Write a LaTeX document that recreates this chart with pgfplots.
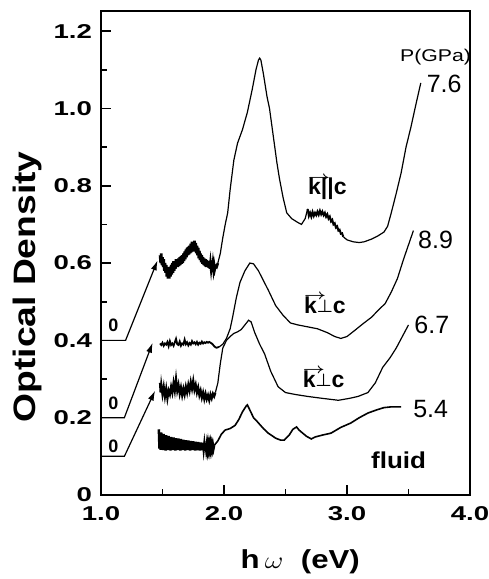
\documentclass[border=0pt]{standalone}
\usepackage{amsmath}
\usepackage{fontspec}
\setmainfont{Liberation Sans}
\usepackage{graphicx}
\usepackage{pgfplots}
\pgfplotsset{compat=1.18}
\usetikzlibrary{arrows.meta}

\newcommand{\vk}{\makebox[0pt][l]{\raisebox{0.6em}{\scalebox{0.8}[0.6]{$\boldsymbol{\rightarrow}$}}}k}
\newcommand{\perpc}{\bfseries\vk\raisebox{0.05em}{\scalebox{0.75}{$\boldsymbol{\perp}$}}c}
\newcommand{\tl}[1]{\scalebox{1.38}[1]{#1}}

\begin{document}
\begin{tikzpicture}
\begin{axis}[
  scale only axis, width=184.5pt, height=242pt,
  xmin=1, xmax=4, ymin=0, ymax=1.252,
  axis line style={line width=1pt},
  tick align=inside, xtick pos=bottom, ytick pos=left,
  xtick={1,2,3,4}, xticklabels={\tl{1.0},\tl{2.0},\tl{3.0},\tl{4.0}},
  minor xtick={1.5,2.5,3.5},
  ytick={0,0.2,0.4,0.6,0.8,1.0,1.2},
  yticklabels={\tl{0},\tl{0.2},\tl{0.4},\tl{0.6},\tl{0.8},\tl{1.0},\tl{1.2}},
  minor ytick={0.1,0.3,0.5,0.7,0.9,1.1},
  major tick length=5pt, minor tick length=3pt,
  every tick/.style={line width=0.8pt, black},
  tick label style={font=\fontsize{10}{12}\selectfont\bfseries},
  xticklabel style={yshift=-2pt},
  yticklabel style={xshift=-1pt},
  xlabel={\scalebox{1.2}[1]{\bfseries h\,$\omega$\ \ (eV)}},
  xlabel style={at={(axis description cs:0.54,-0.138)}, anchor=center, font=\fontsize{13}{15}\selectfont},
  ylabel={\scalebox{1.2}[1]{\bfseries Optical Density}},
  ylabel style={at={(axis description cs:-0.2,0.43)}, anchor=center, font=\fontsize{15.5}{17}\selectfont},
  cycle list={{black, line width=0.6pt, mark=none}},
  clip=false
]
\coordinate (SW) at (rel axis cs:0,0);
\coordinate (NE) at (rel axis cs:1,1);

% zero lines and offset arrows
\addplot[black, line width=0.6pt, -{Latex[length=5pt,width=3pt]}] coordinates {(1.0,0.40)(1.20,0.40)(1.46,0.607)};
\addplot[black, line width=0.6pt, -{Latex[length=5pt,width=3pt]}] coordinates {(1.0,0.20)(1.19,0.20)(1.42,0.394)};
\addplot[black, line width=0.6pt, -{Latex[length=5pt,width=3pt]}] coordinates {(1.0,0.10)(1.19,0.10)(1.44,0.27)};

% 7.6 GPa, k || c
\addplot[black, line width=1.3pt] coordinates {
(1.480,0.620)(1.485,0.600)(1.490,0.625)(1.495,0.595)(1.500,0.615)(1.505,0.590)
(1.510,0.610)(1.515,0.580)(1.520,0.600)(1.525,0.575)(1.530,0.595)(1.535,0.565)
(1.540,0.590)(1.545,0.560)(1.550,0.585)(1.555,0.560)(1.560,0.590)(1.565,0.565)
(1.570,0.595)(1.575,0.570)(1.580,0.600)(1.585,0.575)(1.590,0.605)(1.595,0.580)
(1.600,0.605)(1.605,0.585)(1.610,0.610)(1.615,0.590)(1.620,0.610)(1.625,0.590)
(1.630,0.612)(1.635,0.592)(1.640,0.615)(1.645,0.595)(1.650,0.618)(1.655,0.598)
(1.660,0.620)(1.665,0.600)(1.670,0.625)(1.675,0.605)(1.680,0.630)(1.685,0.610)
(1.690,0.635)(1.695,0.615)(1.700,0.640)(1.705,0.620)(1.710,0.642)(1.715,0.622)
(1.720,0.645)(1.725,0.625)(1.730,0.650)(1.735,0.628)(1.740,0.655)(1.745,0.630)
(1.750,0.655)(1.755,0.632)(1.760,0.658)(1.765,0.630)(1.770,0.652)(1.775,0.625)
(1.780,0.645)(1.785,0.620)(1.790,0.640)(1.795,0.612)(1.800,0.632)(1.805,0.608)
(1.810,0.625)(1.815,0.602)(1.820,0.620)(1.825,0.598)(1.830,0.615)(1.835,0.595)
(1.840,0.612)(1.845,0.592)(1.850,0.610)(1.855,0.590)(1.860,0.608)(1.865,0.590)
(1.870,0.605)(1.875,0.588)(1.880,0.605)(1.885,0.585)(1.890,0.600)(1.895,0.585)
(1.900,0.600)(1.905,0.583)(1.910,0.598)(1.915,0.583)(1.920,0.595)(1.925,0.585)
(1.930,0.593)(1.940,0.590)(1.950,0.600)};
\addplot[black, line width=0.6pt] coordinates {
(1.95,0.600)(1.97,0.625)(1.99,0.665)(2.01,0.700)(2.03,0.730)(2.05,0.790)
(2.08,0.866)(2.11,0.910)(2.15,0.945)(2.19,0.990)(2.23,1.050)(2.26,1.100)
(2.28,1.125)(2.29,1.130)(2.30,1.125)(2.32,1.090)(2.35,1.030)(2.37,1.000)
(2.40,0.930)(2.43,0.860)(2.45,0.820)(2.48,0.770)(2.51,0.730)(2.55,0.715)
(2.60,0.705)(2.63,0.700)(2.66,0.715)(2.68,0.740)};
\addplot[black, line width=1.0pt] coordinates {
(2.68,0.740)(2.69,0.722)(2.70,0.730)(2.71,0.720)(2.72,0.732)(2.73,0.722)
(2.74,0.730)(2.75,0.724)(2.76,0.733)(2.77,0.725)(2.78,0.735)(2.79,0.726)
(2.80,0.733)(2.81,0.724)(2.82,0.730)(2.83,0.720)(2.84,0.726)(2.85,0.715)
(2.86,0.720)(2.87,0.708)(2.88,0.712)(2.89,0.700)(2.90,0.703)(2.91,0.692)
(2.92,0.695)(2.93,0.684)(2.94,0.686)(2.95,0.676)(2.96,0.677)(2.97,0.668)};
\addplot[black, line width=0.6pt] coordinates {
(2.97,0.668)(3.00,0.660)(3.05,0.655)(3.10,0.653)(3.14,0.655)(3.20,0.662)
(3.25,0.670)(3.30,0.680)(3.33,0.695)(3.36,0.730)(3.40,0.780)(3.44,0.833)
(3.48,0.900)(3.52,0.952)(3.56,1.010)(3.60,1.066)};

% 8.9 GPa, k perp c
\addplot[black, line width=0.9pt] coordinates {
(1.48,0.392)(1.49,0.388)(1.50,0.394)(1.51,0.386)(1.52,0.392)(1.53,0.389)
(1.54,0.396)(1.55,0.385)(1.56,0.398)(1.57,0.388)(1.58,0.392)(1.59,0.386)
(1.60,0.395)(1.61,0.404)(1.62,0.390)(1.63,0.388)(1.64,0.397)(1.65,0.386)
(1.66,0.392)(1.67,0.389)(1.68,0.402)(1.69,0.390)(1.70,0.395)(1.71,0.387)
(1.72,0.393)(1.73,0.389)(1.74,0.398)(1.75,0.392)(1.76,0.395)(1.77,0.390)
(1.78,0.396)(1.79,0.389)(1.80,0.394)(1.81,0.391)(1.82,0.397)(1.83,0.392)
(1.84,0.395)(1.85,0.393)(1.86,0.396)(1.87,0.394)(1.88,0.396)(1.89,0.394)
(1.90,0.392)(1.91,0.389)(1.92,0.385)(1.93,0.382)(1.94,0.381)(1.96,0.383)};
\addplot[black, line width=0.6pt] coordinates {
(1.96,0.383)(1.99,0.390)(2.02,0.405)(2.05,0.430)(2.07,0.460)(2.10,0.510)
(2.13,0.550)(2.17,0.580)(2.21,0.600)(2.24,0.598)(2.28,0.580)(2.32,0.555)
(2.36,0.530)(2.42,0.490)(2.48,0.465)(2.54,0.445)(2.60,0.440)(2.68,0.435)
(2.76,0.430)(2.84,0.420)(2.90,0.410)(2.95,0.405)(3.00,0.410)(3.06,0.425)
(3.13,0.443)(3.20,0.460)(3.26,0.480)(3.31,0.495)(3.36,0.525)(3.41,0.560)
(3.46,0.610)(3.54,0.684)};

% 6.7 GPa, k perp c
\addplot[black, line width=1.1pt] coordinates {
(1.480,0.290)(1.485,0.265)(1.490,0.285)(1.500,0.260)(1.510,0.280)(1.520,0.255)
(1.530,0.275)(1.540,0.250)(1.550,0.270)(1.560,0.260)(1.570,0.280)(1.580,0.265)
(1.590,0.290)(1.600,0.270)(1.610,0.300)(1.620,0.270)(1.630,0.285)(1.640,0.262)
(1.650,0.278)(1.660,0.258)(1.670,0.275)(1.680,0.260)(1.690,0.280)(1.700,0.265)
(1.710,0.285)(1.720,0.270)(1.730,0.292)(1.740,0.275)(1.750,0.295)(1.760,0.272)
(1.770,0.285)(1.780,0.265)(1.790,0.278)(1.800,0.258)(1.810,0.270)(1.820,0.252)
(1.830,0.265)(1.840,0.248)(1.850,0.262)(1.860,0.248)(1.870,0.258)(1.880,0.245)
(1.890,0.260)(1.900,0.250)(1.910,0.262)(1.920,0.255)(1.930,0.265)};
\addplot[black, line width=0.6pt] coordinates {
(1.93,0.265)(1.95,0.290)(1.97,0.340)(1.99,0.380)(2.02,0.400)(2.05,0.410)
(2.08,0.418)(2.11,0.422)(2.14,0.428)(2.17,0.440)(2.20,0.452)(2.22,0.448)
(2.25,0.420)(2.29,0.390)(2.33,0.365)(2.38,0.320)(2.44,0.280)(2.50,0.265)
(2.58,0.260)(2.68,0.255)(2.80,0.250)(2.93,0.245)(3.02,0.250)(3.09,0.255)
(3.17,0.265)(3.23,0.290)(3.29,0.330)(3.35,0.355)(3.40,0.380)(3.45,0.410)
(3.50,0.440)};

% 5.4 GPa, fluid
\addplot[black, line width=1.2pt] coordinates {
(1.470,0.170)(1.475,0.120)(1.480,0.160)(1.485,0.117)(1.490,0.162)(1.495,0.119)
(1.500,0.155)(1.505,0.116)(1.510,0.158)(1.515,0.118)(1.520,0.152)(1.525,0.115)
(1.530,0.155)(1.535,0.119)(1.540,0.150)(1.545,0.116)(1.550,0.153)(1.555,0.118)
(1.560,0.148)(1.565,0.115)(1.570,0.150)(1.575,0.118)(1.580,0.146)(1.585,0.116)
(1.590,0.149)(1.595,0.119)(1.600,0.145)(1.605,0.115)(1.610,0.147)(1.615,0.118)
(1.620,0.143)(1.625,0.116)(1.630,0.146)(1.635,0.118)(1.640,0.142)(1.645,0.115)
(1.650,0.145)(1.655,0.118)(1.660,0.141)(1.665,0.116)(1.670,0.143)(1.675,0.119)
(1.680,0.140)(1.685,0.115)(1.690,0.142)(1.695,0.118)(1.700,0.139)(1.705,0.116)
(1.710,0.141)(1.715,0.118)(1.720,0.138)(1.725,0.115)(1.730,0.140)(1.735,0.118)
(1.740,0.137)(1.745,0.116)(1.750,0.139)(1.755,0.119)(1.760,0.136)(1.765,0.115)
(1.770,0.138)(1.775,0.118)(1.780,0.135)(1.785,0.116)(1.790,0.137)(1.795,0.118)
(1.800,0.134)(1.805,0.115)(1.810,0.136)(1.815,0.118)(1.820,0.133)(1.825,0.116)
(1.830,0.135)(1.835,0.118)(1.840,0.132)(1.845,0.116)(1.850,0.133)(1.855,0.118)
(1.860,0.131)(1.865,0.117)(1.870,0.132)(1.875,0.118)(1.880,0.130)(1.885,0.117)
(1.890,0.131)(1.895,0.118)(1.900,0.130)(1.905,0.119)(1.910,0.130)(1.915,0.120)
(1.920,0.128)};
\addplot[black, line width=0.8pt] coordinates {
(1.92,0.128)(1.95,0.140)(1.98,0.158)(2.01,0.168)(2.05,0.172)(2.09,0.180)
(2.12,0.195)(2.15,0.215)(2.18,0.230)(2.19,0.233)(2.21,0.220)(2.24,0.200)
(2.27,0.190)(2.32,0.172)(2.36,0.160)(2.42,0.147)(2.46,0.142)(2.49,0.142)
(2.53,0.155)(2.56,0.170)(2.59,0.176)(2.61,0.168)(2.64,0.160)(2.67,0.152)
(2.71,0.145)(2.74,0.150)(2.80,0.155)(2.87,0.160)(2.95,0.175)(3.03,0.186)
(3.10,0.200)(3.17,0.212)(3.24,0.220)(3.30,0.226)(3.36,0.228)(3.44,0.228)};

% annotations
\node[font=\fontsize{8.5}{9}\selectfont, xscale=1.25] at (axis cs:3.72,1.133) {P(GPa)};
\node[font=\fontsize{12.5}{14}\selectfont] at (axis cs:3.79,1.063) {7.6};
\node[font=\fontsize{12.5}{14}\selectfont] at (axis cs:3.72,0.661) {8.9};
\node[font=\fontsize{12.5}{14}\selectfont] at (axis cs:3.69,0.440) {6.7};
\node[font=\fontsize{12.5}{14}\selectfont] at (axis cs:3.68,0.223) {5.4};
\node[font=\fontsize{11.5}{13}\selectfont\bfseries, xscale=1.13] at (axis cs:3.42,0.091) {fluid};
\node[font=\fontsize{11.5}{13}\selectfont\bfseries] at (axis cs:2.84,0.795) {\vk||c};
\node[font=\fontsize{11.5}{13}\selectfont] at (axis cs:2.82,0.495) {\perpc};
\node[font=\fontsize{11.5}{13}\selectfont] at (axis cs:2.81,0.303) {\perpc};
\node[font=\fontsize{9}{10}\selectfont\bfseries] at (axis cs:1.10,0.438) {0};
\node[font=\fontsize{9}{10}\selectfont\bfseries] at (axis cs:1.10,0.236) {0};
\node[font=\fontsize{9}{10}\selectfont\bfseries] at (axis cs:1.10,0.127) {0};
\end{axis}
\pgfresetboundingbox
\path[use as bounding box] ([shift={(-50.5pt,-42pt)}]SW) rectangle ([shift={(9pt,5.5pt)}]NE);
\end{tikzpicture}
\end{document}
